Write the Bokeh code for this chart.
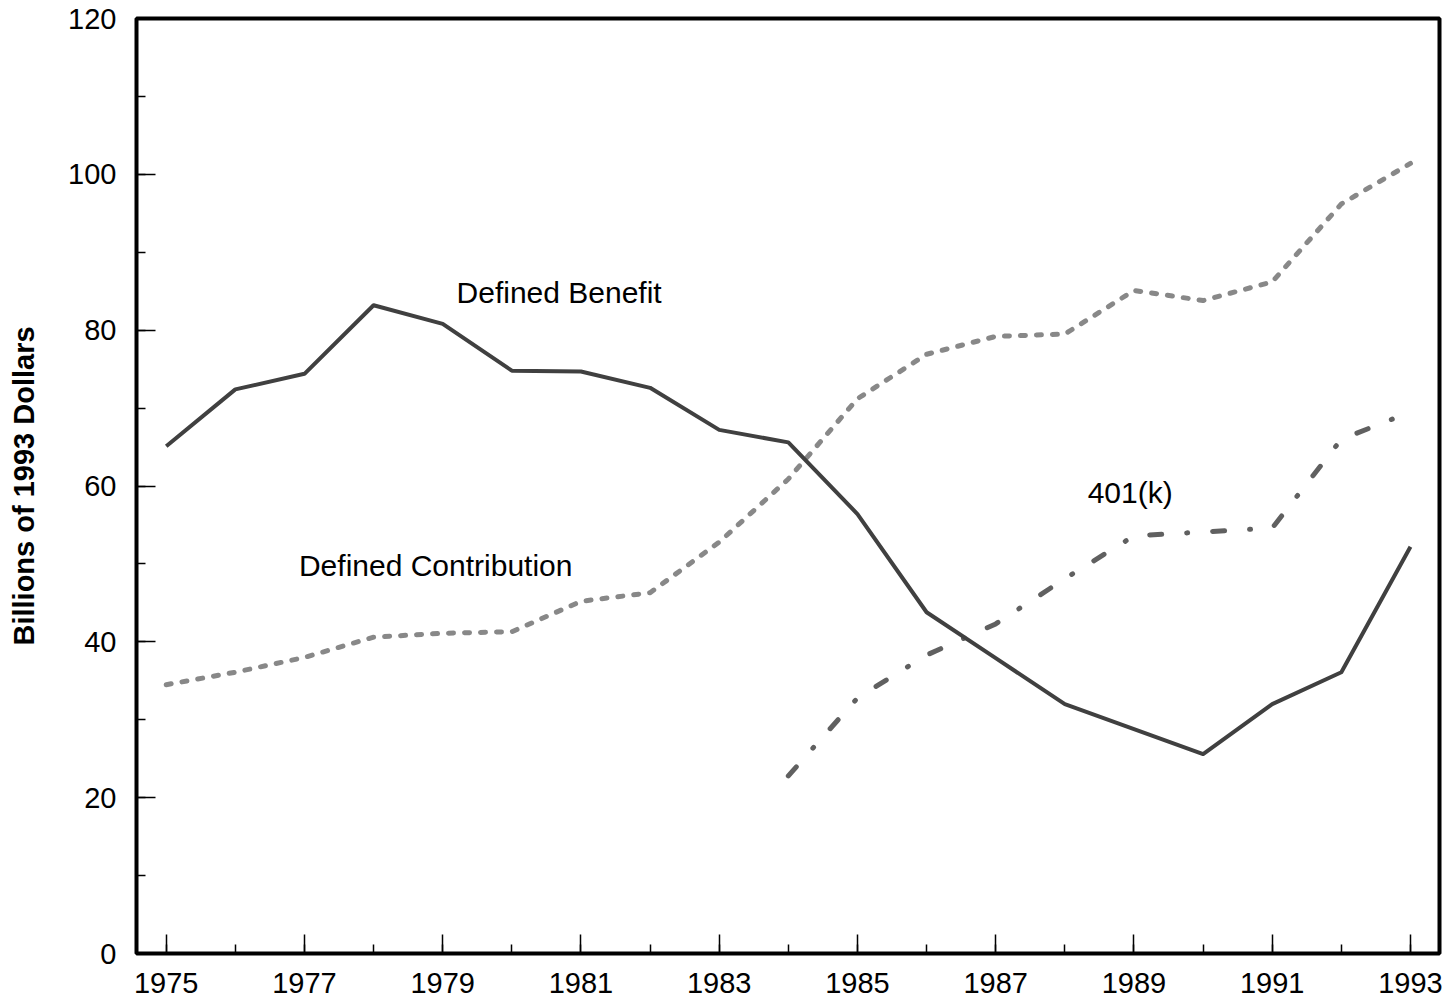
from bokeh.plotting import figure
from bokeh.models import Range1d, FixedTicker, Label
from bokeh.embed import file_html
from bokeh.resources import INLINE

years = list(range(1975, 1994))
defined_benefit = [65.1, 72.4, 74.4, 83.2, 80.8, 74.8, 74.7, 72.6, 67.2, 65.6,
                   56.4, 43.8, 37.9, 32.0, 28.8, 25.6, 32.0, 36.1, 52.2]
defined_contribution = [34.5, 36.1, 38.0, 40.6, 41.1, 41.3, 45.2, 46.3, 52.8, 60.9,
                        71.2, 76.9, 79.2, 79.5, 85.1, 83.8, 86.2, 96.2, 101.4]
k401_years = list(range(1984, 1994))
k401 = [22.8, 32.8, 38.3, 42.3, 48.1, 53.6, 54.1, 54.6, 66.0, 69.5]

x_major = list(range(1975, 1994, 2))
x_minor = list(range(1975, 1994))
y_major = list(range(0, 121, 20))
y_minor = list(range(0, 121, 10))

FONT = "Liberation Sans"

p = figure(frame_width=1303, frame_height=935,
           x_range=Range1d(1974.57, 1993.42), y_range=Range1d(0, 120),
           min_border_left=136, min_border_top=18, min_border_right=8, min_border_bottom=52,
           output_backend="svg", toolbar_location=None)

p.background_fill_color = "white"
p.border_fill_color = "white"
p.outline_line_color = "black"
p.outline_line_width = 4
p.xgrid.visible = False
p.ygrid.visible = False

for ax in (p.xaxis[0], p.yaxis[0]):
    ax.axis_line_color = None
    ax.major_tick_in = 19
    ax.major_tick_out = 0
    ax.minor_tick_in = 9
    ax.minor_tick_out = 0
    ax.major_tick_line_color = "black"
    ax.minor_tick_line_color = "black"
    ax.major_tick_line_width = 1.5
    ax.minor_tick_line_width = 1.5
    ax.major_label_text_font = FONT
    ax.major_label_text_font_size = "29px"
    ax.major_label_text_color = "black"

p.xaxis.ticker = FixedTicker(ticks=x_major, minor_ticks=x_minor)
p.yaxis.ticker = FixedTicker(ticks=y_major, minor_ticks=y_minor)
p.xaxis.major_label_standoff = 19
p.yaxis.major_label_standoff = 20

p.yaxis.axis_label = "Billions of 1993 Dollars"
p.yaxis.axis_label_text_font = FONT
p.yaxis.axis_label_text_font_style = "bold"
p.yaxis.axis_label_text_font_size = "29px"
p.yaxis.axis_label_text_color = "black"
p.yaxis.axis_label_standoff = 25

p.line(years, defined_contribution, line_color="#888888", line_width=5,
       line_dash="5 11", line_cap="round", line_join="round")
p.line(k401_years, k401, line_color="#606060", line_width=5,
       line_dash="12 25 1 25", line_cap="round", line_join="round")
p.line(years, defined_benefit, line_color="#404040", line_width=4, line_join="round")

for txt, x, y in [("Defined Benefit", 1979.2, 84.8),
                  ("Defined Contribution", 1976.92, 49.76),
                  ("401(k)", 1988.33, 59.17)]:
    p.add_layout(Label(x=x, y=y, text=txt, text_font=FONT, text_font_size="30px",
                       text_color="black", text_baseline="alphabetic"))

open("out.html", "w").write(file_html(p, INLINE))
